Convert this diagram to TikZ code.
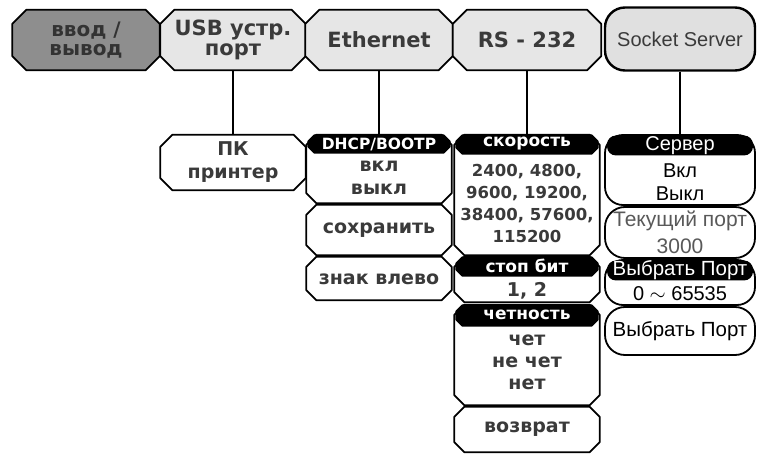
\documentclass[tikz,border=0pt]{standalone}
\usepackage{fontspec}
\setmainfont{DejaVu Sans}
\newfontfamily\arialf{Liberation Sans}
\definecolor{txtgray}{HTML}{3A3A3A}
\definecolor{boxgray}{HTML}{E6E6E6}
\definecolor{darkbox}{HTML}{8E8E8E}
\definecolor{sockgray}{HTML}{E0E0E0}
\newcommand\chbx[3][10pt]{%
  \draw[line width=1.8pt, fill=#3, line join=round]
    ([xshift=#1]#2.north west) -- ([xshift=-#1]#2.north east) -- ([yshift=-#1]#2.north east)
    -- ([yshift=#1]#2.south east) -- ([xshift=-#1]#2.south east) -- ([xshift=#1]#2.south west)
    -- ([yshift=#1]#2.south west) -- ([yshift=-#1]#2.north west) -- cycle;}
\tikzset{
  area/.style={rectangle, draw=none, inner sep=0pt, minimum width=145pt},
  toptxt/.style={font=\fontsize{21}{22}\selectfont\bfseries, text=txtgray, align=center, inner sep=0pt},
  hdrtxt/.style={font=\fontsize{17}{18}\selectfont\bfseries, text=white, inner sep=0pt},
  txt/.style={font=\fontsize{19}{23}\selectfont\bfseries, text=txtgray, align=center, inner sep=0pt},
  numtxt/.style={font=\fontsize{16.5}{22}\selectfont\bfseries, text=txtgray, align=center, inner sep=0pt},
  rrbox/.style={draw=black, line width=1.8pt, fill=white, rounded corners=18pt, inner sep=0pt, minimum width=150pt},
  rhdr/.style={fill=black, rounded corners=9pt, inner sep=0pt, text=white, minimum width=146pt, minimum height=20pt,
    font=\arialf\fontsize{20}{21}\selectfont},
  stxt/.style={font=\arialf\fontsize{20}{23}\selectfont, align=center, inner sep=0pt},
  link/.style={draw=black, line width=2pt}
}
\begin{document}
\begin{tikzpicture}[x=1pt,y=-1pt]
\useasboundingbox (0,0) rectangle (763,462);
% top row
\node[area, minimum width=147pt, minimum height=60pt] (io) at (86,40) {};
\chbx[14pt]{io}{darkbox}
\node[toptxt, text=black!80, font=\fontsize{20}{21}\selectfont\bfseries] (iot) at (86,40) {ввод /\\[-2pt]вывод};
\node[area, minimum height=60pt] (usb) at (233,40) {};
\chbx[14pt]{usb}{boxgray}
\node[toptxt] (usbt) at (233,40) {USB устр.\\[-2pt]порт};
\node[area, minimum width=147pt, minimum height=60pt] (eth) at (379,40) {};
\chbx[14pt]{eth}{boxgray}
\node[toptxt] (etht) at (379,40) {Ethernet};
\node[area, minimum width=148pt, minimum height=60pt] (rs) at (527,40) {};
\chbx[14pt]{rs}{boxgray}
\node[toptxt] (rst) at (527,40) {RS - 232};
\node[rrbox, fill=sockgray, line width=2.4pt, minimum height=63pt, rounded corners=20pt,
      font=\arialf\fontsize{20}{21}\selectfont, text=txtgray] (sock) at (680,39) {Socket Server};

% USB column
\node[area, minimum height=55pt] (pc) at (233,162.5) {};
\chbx[12pt]{pc}{white}
\node[txt] (pct) at (233,162) {ПК\\принтер};

% Ethernet column
\node[area, minimum height=68pt] (dhcp) at (379,169) {};
\chbx{dhcp}{white}
\node[area, minimum width=141pt, minimum height=17pt] (dhcph) at (379,144) {};
\chbx[6pt]{dhcph}{black}
\node[hdrtxt, font=\fontsize{15.5}{16}\selectfont\bfseries] (dhcpht) at (379,144) {DHCP/BOOTP};
\node[txt] (dhcpt) at (379,178) {вкл\\выкл};
\node[area, minimum height=50pt] (save) at (379,230) {};
\chbx{save}{white}
\node[txt] (savet) at (379,230) {сохранить};
\node[area, minimum height=43pt] (sign) at (379,278.5) {};
\chbx{sign}{white}
\node[txt] (signt) at (379,279) {знак влево};

% RS-232 column
\node[area, minimum height=120pt] (speed) at (527,195) {};
\chbx{speed}{white}
\node[area, minimum width=141pt, minimum height=18pt] (speedh) at (527,144.5) {};
\chbx[6pt]{speedh}{black}
\node[hdrtxt] (speedht) at (527,144) {скорость};
\node[numtxt] (speedt) at (527,203) {2400, 4800,\\9600, 19200,\\38400, 57600,\\115200};
\node[area, minimum height=45pt] (stop) at (527,279.5) {};
\chbx{stop}{white}
\node[area, minimum width=141pt, minimum height=18pt] (stoph) at (527,266.5) {};
\chbx[6pt]{stoph}{black}
\node[hdrtxt] (stopht) at (527,266) {стоп бит};
\node[txt] (stopt) at (527,291) {1, 2};
\node[area, minimum height=100pt] (par) at (527,355) {};
\chbx{par}{white}
\node[area, minimum width=141pt, minimum height=20pt] (parh) at (527,315.5) {};
\chbx[6pt]{parh}{black}
\node[hdrtxt] (parht) at (527,315) {четность};
\node[txt, font=\fontsize{19}{22}\selectfont\bfseries] (part) at (527,362) {чет\\не чет\\нет};
\node[area, minimum height=45pt] (ret) at (527,429.5) {};
\chbx{ret}{white}
\node[txt] (rett) at (527,429) {возврат};

% Socket column
\node[rrbox, minimum height=70pt] (srv) at (680,170) {};
\node[rhdr] (srvh) at (680,145.5) {Сервер};
\node[stxt] (srvt) at (680,182) {Вкл\\Выкл};
\node[rrbox, minimum height=51pt, rounded corners=20pt] (cur) at (680,232.5) {};
\node[stxt, text=black!65, font=\arialf\fontsize{21}{27}\selectfont] (curt) at (680,232) {Текущий порт\\3000};
\node[rrbox, minimum height=45pt, rounded corners=18pt] (sel) at (680,282.5) {};
\node[rhdr, font=\arialf\fontsize{20.5}{21}\selectfont] (selh) at (680,270.5) {Выбрать Порт};
\node[stxt] (selt) at (680,294) {0 $\sim$ 65535};
\node[rrbox, minimum height=48pt, rounded corners=20pt] (sel2) at (680,331) {};
\node[stxt, font=\arialf\fontsize{20.5}{21}\selectfont] (sel2t) at (680,331) {Выбрать Порт};

% connectors
\draw[link] (usb.south) -- (pc.north);
\draw[link] (eth.south) -- (dhcp.north);
\draw[link] (rs.south) -- (speed.north);
\draw[link] (sock.south) -- (srv.north);
\end{tikzpicture}
\end{document}
